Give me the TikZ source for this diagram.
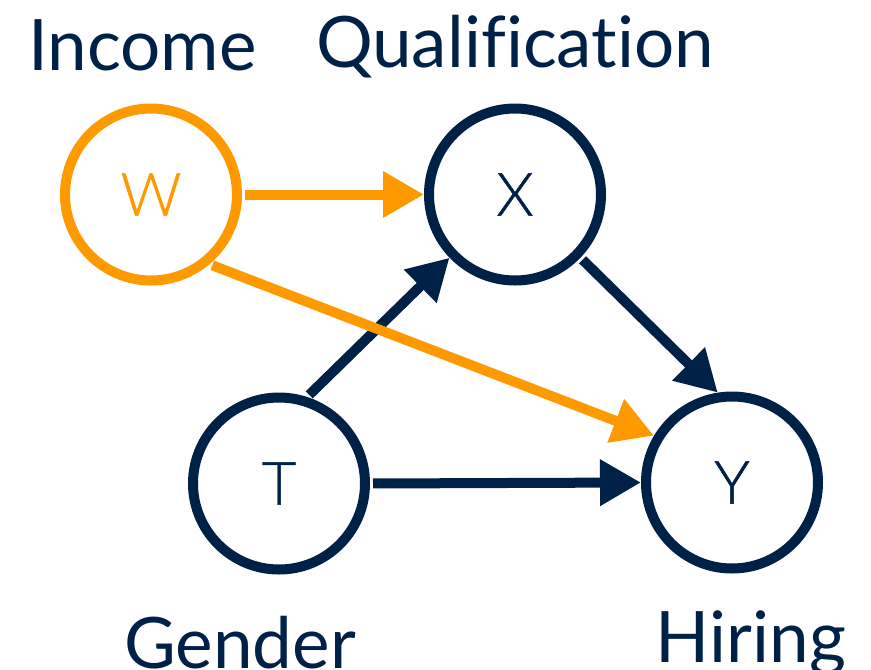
\documentclass[tikz,border=0pt]{standalone}
\usepackage{fontspec}
\setmainfont{Lato}[Ligatures=NoCommon]
\newfontfamily\latolight{Lato Light}[FakeBold=0.8]
\usetikzlibrary{arrows.meta}
\definecolor{navy}{RGB}{0,33,71}
\definecolor{orng}{RGB}{255,153,0}
\begin{document}
\begin{tikzpicture}[x=1pt,y=-1pt,
  var/.style={circle,draw,line width=10pt,minimum size=172pt,inner sep=0pt,font=\latolight\fontsize{60}{60}\selectfont},
  lab/.style={anchor=base,font=\fontsize{71}{71}\selectfont,text=navy,inner sep=0pt},
  edge/.style={line width=10pt,shorten <=3pt,-{Triangle[length=41pt,width=44pt]}}]
\useasboundingbox (0,0) rectangle (871,670);
\node[var,draw=orng,text=orng] (W) at (151,194.5) {W};
\node[var,draw=navy,text=navy] (X) at (515,194.5) {X};
\node[var,draw=navy,text=navy] (T) at (279,483.5) {T};
\node[var,draw=navy,text=navy] (Y) at (732,482.5) {Y};
\node[lab] (li) at (142.5,70) {Income};
\node[lab] (lq) at (515,67) {Qualification};
\node[lab] (lg) at (240,668) {Gender};
\node[lab] (lh) at (751,662) {Hiring};
\draw[edge,navy] (T.72) -- (X.224);
\draw[edge,navy] (X.-44) -- (Y.99);
\draw[edge,navy] (T.east) -- (Y.west);
\draw[edge,orng] (W.-50) -- (Y.149);
\draw[edge,orng] (W.east) -- (X.west);
\end{tikzpicture}
\end{document}
